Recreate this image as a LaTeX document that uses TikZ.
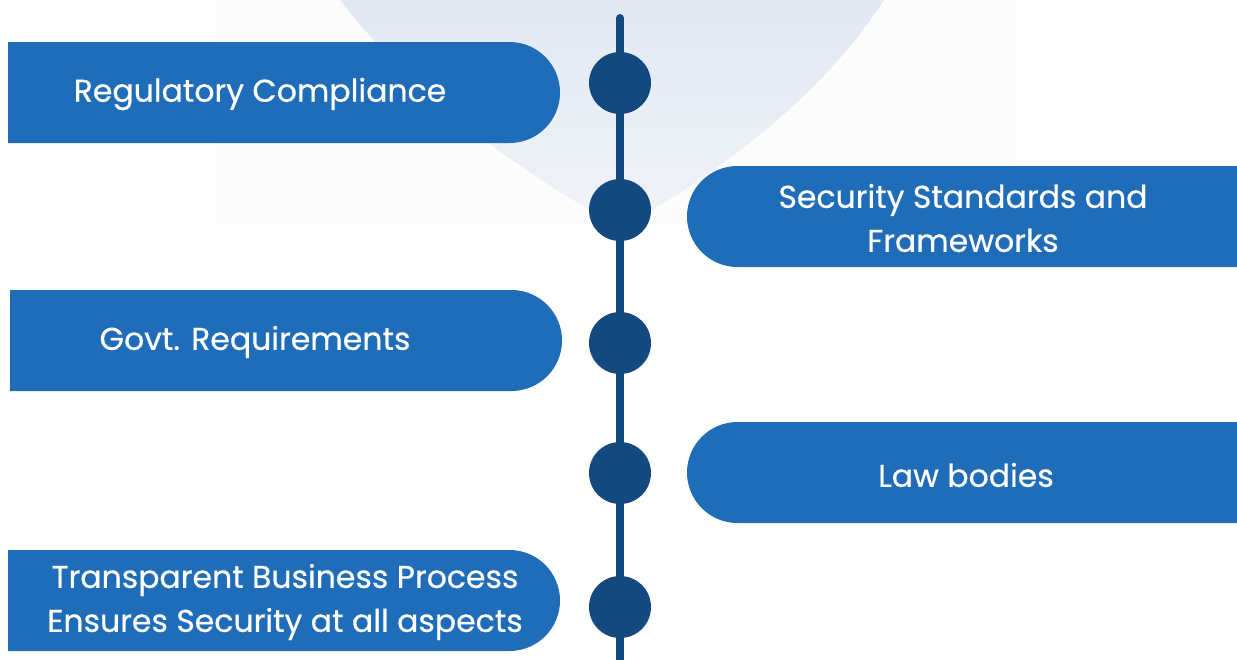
\documentclass[tikz,border=0pt]{standalone}
\usepackage{fontspec}
\setmainfont{Poppins}
\newfontfamily\medfont{Poppins}[FakeBold=0.5]
\usepackage{tikz}
\usetikzlibrary{shapes.misc,positioning,calc}
\definecolor{boxblue}{RGB}{31,109,185}
\definecolor{dotblue}{RGB}{20,73,127}
\definecolor{shieldtop}{RGB}{226,232,242}
\definecolor{shieldbot}{RGB}{240,243,248}
\definecolor{paneback}{RGB}{252,252,253}

\tikzset{
  leftbox/.style={rounded rectangle, rounded rectangle west arc=none, fill=boxblue,
                  minimum width=552pt, minimum height=101pt, inner sep=0pt},
  rightbox/.style={rounded rectangle, rounded rectangle east arc=none, fill=boxblue,
                  minimum width=550pt, minimum height=101pt, inner sep=0pt},
  boxtext/.style={text=white, font=\medfont\fontsize{31.5}{44}\selectfont, align=center},
  dot/.style={circle, fill=dotblue, minimum size=62pt, inner sep=0pt}
}

\begin{document}
\begin{tikzpicture}[x=1pt,y=-1pt]
  \useasboundingbox (0,0) rectangle (1237,659);
  % faint backdrop
  \fill[paneback] (215,0) rectangle (1015,224);
  \shade[top color=shieldtop, bottom color=shieldbot]
    (340,0) .. controls (440,130) and (590,210) .. (621,228)
            .. controls (652,210) and (800,130) .. (884,0) -- cycle;
  % boxes
  \node[leftbox]  (b1) at (284,92.5)  {};
  \node[rightbox] (b2) at (962,216.5) {};
  \node[leftbox]  (b3) at (286,340.5) {};
  \node[rightbox] (b4) at (962,472.5) {};
  \node[leftbox]  (b5) at (284,600.5) {};
  % labels
  \node[boxtext] (t1) at (260,94)  {Regulatory Compliance};
  \node[boxtext] (t2) at (963,218) {Security Standards and\\Frameworks};
  \node[boxtext] (t3) at (255,342) {Govt. Requirements};
  \node[boxtext] (t4) at (966,475) {Law bodies};
  \node[boxtext] (t5) at (285,602) {Transparent Business Process\\Ensures Security at all aspects};
  % timeline
  \coordinate (top) at (620,18);
  \coordinate (bot) at (620,665);
  \draw[dotblue, line width=8pt, line cap=round] (top) -- (bot);
  \foreach \y [count=\i] in {83,210,343,473,607}
    \node[dot] (d\i) at (620,\y) {};
\end{tikzpicture}
\end{document}
